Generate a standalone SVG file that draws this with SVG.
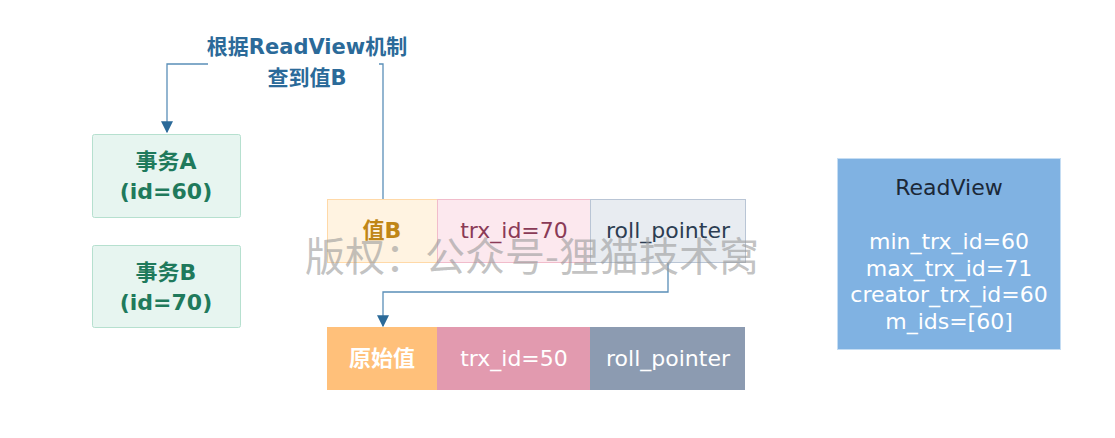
<svg xmlns="http://www.w3.org/2000/svg" width="1115" height="438" viewBox="0 0 1115 438">
<defs>
<style>
text{font-family:"DejaVu Sans","Noto Sans CJK SC",sans-serif;text-anchor:middle;dominant-baseline:central}
.b{font-weight:bold}
.lbl{font-size:21px;fill:#2b6a99;font-weight:bold}
.tx{font-size:22px;font-weight:bold;fill:#1f7a5c}
.cell{font-size:22px}
.w{fill:#ffffff}
.conn{fill:none;stroke:#5a8fb8;stroke-width:1.3}
</style>
<marker id="ah" viewBox="0 0 10 10" refX="9" refY="5" markerWidth="12" markerHeight="12" markerUnits="userSpaceOnUse" orient="auto">
<path d="M0,0 L10,5 L0,10 z" fill="#2b6a99"/>
</marker>
</defs>
<rect width="1115" height="438" fill="#ffffff"/>

<g id="txA">
<rect x="92.5" y="134.5" width="148" height="83" rx="2" fill="#e7f5f0" stroke="#b6e0cf"/>
<text class="tx" x="166" y="161">事务A</text>
<text class="tx" x="166" y="191">(id=60)</text>
</g>
<g id="txB">
<rect x="92.5" y="245.5" width="148" height="82" rx="2" fill="#e7f5f0" stroke="#b6e0cf"/>
<text class="tx" x="166" y="272">事务B</text>
<text class="tx" x="166" y="302">(id=70)</text>
</g>

<g id="rowTop">
<rect x="327.5" y="199.5" width="110" height="63" fill="#fff3e1" stroke="#ffd9a8"/>
<rect x="437.5" y="199.5" width="153" height="63" fill="#fce8ee" stroke="#f1bccb"/>
<rect x="590.5" y="199.5" width="155" height="63" fill="#e8ecf1" stroke="#b9c5d5"/>
<text class="cell b" x="382" y="230" fill="#c08616">值B</text>
<text class="cell" x="514" y="230" fill="#8a3a56">trx_id=70</text>
<text class="cell" x="668" y="230" fill="#2c3d52">roll_pointer</text>
</g>

<g id="rowBottom">
<rect x="327" y="327" width="110" height="63" fill="#ffc07a"/>
<rect x="437" y="327" width="153" height="63" fill="#e29aaf"/>
<rect x="590" y="327" width="155" height="63" fill="#8c9bb1"/>
<text class="cell b w" x="382" y="358">原始值</text>
<text class="cell w" x="514" y="358">trx_id=50</text>
<text class="cell w" x="668" y="358">roll_pointer</text>
</g>

<g id="readview">
<rect x="837.5" y="158.5" width="223" height="191" fill="#80b2e2" stroke="#c5ddf3"/>
<text class="cell" x="949" y="187" fill="#1b2838">ReadView</text>
<text class="cell w" x="949" y="241">min_trx_id=60</text>
<text class="cell w" x="949" y="268">max_trx_id=71</text>
<text class="cell w" x="949" y="294">creator_trx_id=60</text>
<text class="cell w" x="949" y="321">m_ids=[60]</text>
</g>

<g id="connectors">
<path class="conn" d="M383,199 V64 H167 V132" marker-end="url(#ah)"/>
<rect x="208" y="36" width="171" height="54" fill="#ffffff"/>
<text class="lbl" x="307" y="47">根据ReadView机制</text>
<text class="lbl" x="307" y="78">查到值B</text>
<path class="conn" d="M668,263 V292 H383 V326" marker-end="url(#ah)"/>
</g>

<text x="532" y="254" font-size="40" fill="#9a9a9a" fill-opacity="0.6" style="font-family:'Noto Sans CJK SC',sans-serif">版权：公众号-狸猫技术窝</text>
</svg>
